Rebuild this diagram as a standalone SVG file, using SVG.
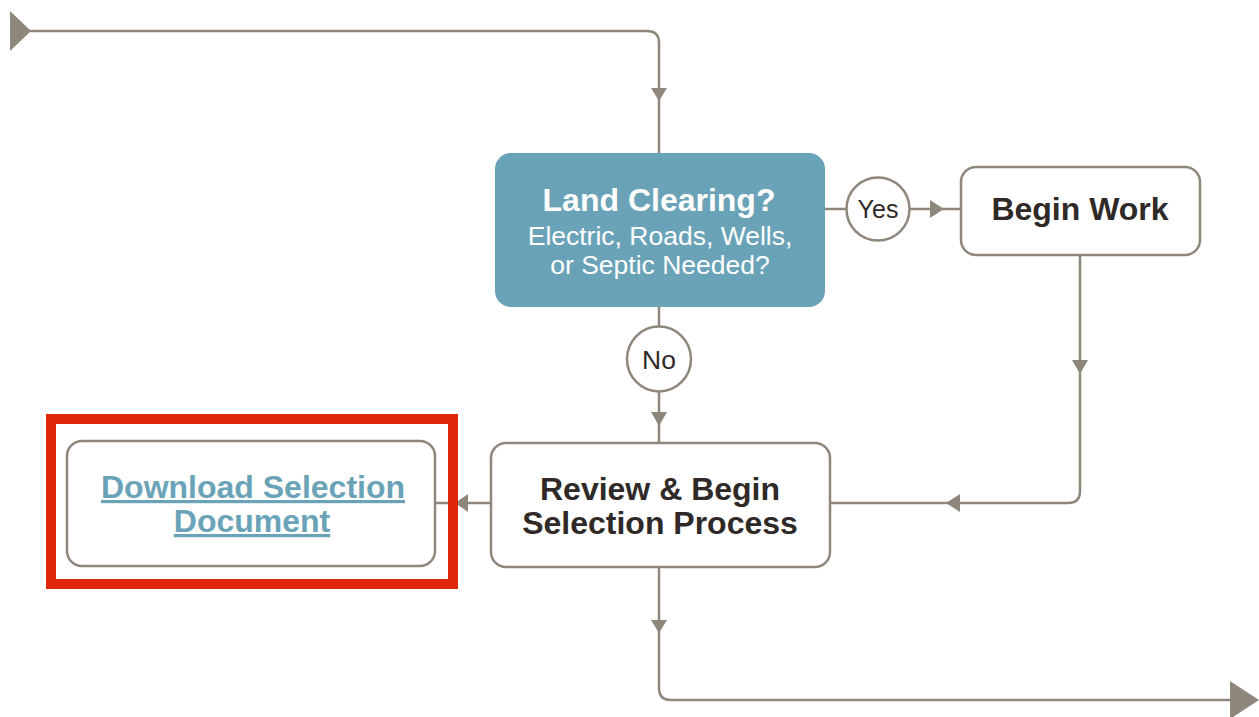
<svg xmlns="http://www.w3.org/2000/svg" width="1259" height="717" viewBox="0 0 1259 717">
<style>
.conn{fill:none;stroke:#8f877b;stroke-width:2.5}
.head{fill:#8f877b}
.box{fill:#fff;stroke:#8f877b;stroke-width:2.5}
.lbl{fill:#fff;stroke:#8f877b;stroke-width:2.5}
.t{font-family:"Liberation Sans",Arial,sans-serif;text-anchor:middle}
.b{font-weight:bold;font-size:32px;fill:#2f2a28}
.w{fill:#fff}
.link{font-weight:bold;font-size:32px;fill:#6aa3b8;text-decoration:underline}
</style>
<rect width="1259" height="717" fill="#fff"/>
<g id="connectors">
<path class="conn" d="M30 31 H647 Q659 31 659 43 V153"/>
<path class="head" d="M10 11 L31 31 L10 51 Z"/>
<path class="head" d="M651 88 H667 L659 101 Z"/>
<path class="conn" d="M825 209 H846 M910 209 H961"/>
<path class="head" d="M930 200 L944 209 L930 218 Z"/>
<path class="conn" d="M659 307 V327 M659 392 V443"/>
<path class="head" d="M651 412 H667 L659 426 Z"/>
<path class="conn" d="M1080 255 V491 Q1080 503 1068 503 H830"/>
<path class="head" d="M1072 360 H1088 L1080 374 Z"/>
<path class="head" d="M960 494 L946 503 L960 512 Z"/>
<path class="conn" d="M491 503 H435"/>
<path class="head" d="M468 494 L455 503 L468 512 Z"/>
<path class="conn" d="M659 567 V688 Q659 700 671 700 H1240"/>
<path class="head" d="M651 620 H667 L659 633 Z"/>
<path class="head" d="M1230 681 L1259 700 L1230 719 Z"/>
</g>
<g id="decision">
<rect x="495" y="153" width="330" height="154" rx="16" fill="#6aa3b8"/>
<text class="t b w" x="659" y="211">Land Clearing?</text>
<text class="t w" x="660" y="245" font-size="26.5">Electric, Roads, Wells,</text>
<text class="t w" x="660" y="274" font-size="26.5">or Septic Needed?</text>
</g>
<g id="yes">
<ellipse class="lbl" cx="878" cy="209" rx="31.5" ry="31.5"/>
<text class="t" x="878" y="218" font-size="25" fill="#2f2a28">Yes</text>
</g>
<g id="begin-work">
<rect class="box" x="961" y="167" width="239" height="88" rx="15"/>
<text class="t b" x="1080" y="220">Begin Work</text>
</g>
<g id="no">
<ellipse class="lbl" cx="659" cy="359" rx="32" ry="32.5"/>
<text class="t" x="659" y="369" font-size="26.5" fill="#2f2a28">No</text>
</g>
<g id="review">
<rect class="box" x="491" y="443" width="339" height="124" rx="15"/>
<text class="t b" x="660" y="500">Review &amp; Begin</text>
<text class="t b" x="660" y="534">Selection Process</text>
</g>
<g id="download">
<rect class="box" x="67" y="441" width="368" height="125" rx="15"/>
<text class="t link" x="253" y="498">Download Selection</text>
<text class="t link" x="252" y="532">Document</text>
</g>
<g id="highlight">
<rect x="51" y="419" width="402" height="165" fill="none" stroke="#e0260a" stroke-width="10"/>
</g>
</svg>
